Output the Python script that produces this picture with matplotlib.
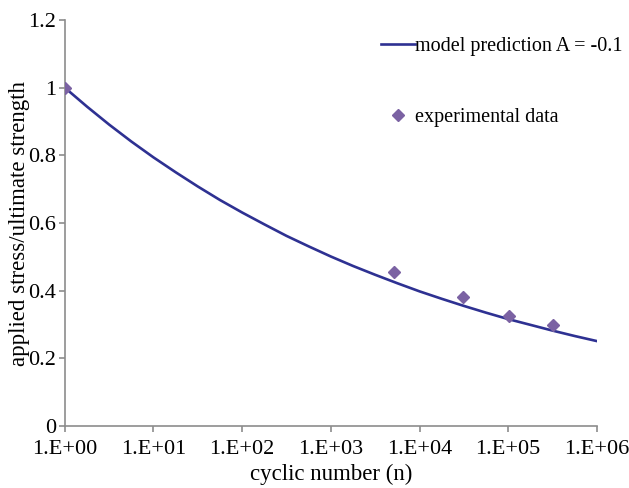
import matplotlib
matplotlib.use('Agg')
import matplotlib.pyplot as plt
from matplotlib.ticker import FixedLocator, NullLocator

# model curve, read at quarter decades
model_n = [1, 1.78, 3.16, 5.62, 10, 17.8, 31.6, 56.2, 100, 178, 316, 562, 1000,
           1780, 3160, 5620, 1e4, 1.78e4, 3.16e4, 5.62e4, 1e5, 1.78e5, 3.16e5, 5.62e5, 1e6]
model_s = [1.0, 0.944, 0.891, 0.841, 0.794, 0.75, 0.708, 0.668, 0.631, 0.596, 0.562,
           0.531, 0.501, 0.473, 0.447, 0.422, 0.398, 0.376, 0.355, 0.335, 0.316, 0.299,
           0.282, 0.266, 0.251]

# experimental points
exp_n = [1, 5.1e3, 3.1e4, 1.02e5, 3.2e5]
exp_s = [1.0, 0.455, 0.381, 0.325, 0.298]

x_ticks = [1, 1e1, 1e2, 1e3, 1e4, 1e5, 1e6]
x_labels = ['1.E+00', '1.E+01', '1.E+02', '1.E+03', '1.E+04', '1.E+05', '1.E+06']
y_ticks = [0, 0.2, 0.4, 0.6, 0.8, 1.0, 1.2]
y_labels = ['0', '0.2', '0.4', '0.6', '0.8', '1', '1.2']

plt.rcParams['font.family'] = ['Liberation Serif', 'DejaVu Serif']

fig = plt.figure(figsize=(6.29, 4.88), dpi=100)
ax = fig.add_axes([0.103, 0.127, 0.846, 0.832])

ax.plot(model_n, model_s, color='#2E3192', lw=1.9, label='model prediction A = -0.1', zorder=2)
ax.plot(exp_n, exp_s, ls='none', marker='D', ms=6, color='#7B62A3',
        label='experimental data', zorder=3)

ax.set_xscale('log')
ax.set_xlim(1, 1e6)
ax.set_ylim(0, 1.2)
ax.xaxis.set_major_locator(FixedLocator(x_ticks))
ax.xaxis.set_minor_locator(NullLocator())
ax.set_xticklabels(x_labels)
ax.set_yticks(y_ticks)
ax.set_yticklabels(y_labels)

for s in ['top', 'right']:
    ax.spines[s].set_visible(False)
for s in ['left', 'bottom']:
    ax.spines[s].set_color('#8c8c8c')
    ax.spines[s].set_linewidth(1.2)
ax.tick_params(axis='both', colors='#8c8c8c', length=4, width=1.2, labelsize=16)
for lab in ax.get_xticklabels() + ax.get_yticklabels():
    lab.set_color('black')
ax.tick_params(axis='x', pad=6)
ax.tick_params(axis='y', pad=2)

ax.set_xlabel('cyclic number (n)', fontsize=16.5)
ax.xaxis.set_label_coords(0.5, -0.092)
ax.set_ylabel('applied stress/ultimate strength', fontsize=16.5)
ax.yaxis.set_label_coords(-0.066, 0.5)

leg = ax.legend(loc='upper left', bbox_to_anchor=(0.561, 1.003), frameon=False,
                handlelength=1.65, handletextpad=0.02, labelspacing=2.6, fontsize=14.5)

fig.savefig('out.png', dpi=100)
